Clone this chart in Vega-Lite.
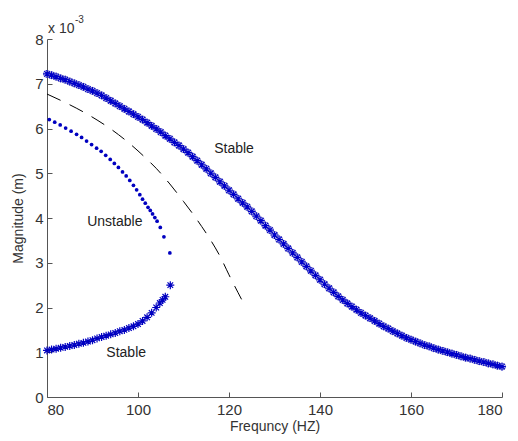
{
  "$schema": "https://vega.github.io/schema/vega-lite/v6.json",
  "autosize": "none",
  "width": 455,
  "height": 358,
  "padding": {"left": 47, "top": 39, "right": 16, "bottom": 44},
  "background": "white",
  "config": {
    "view": {"stroke": null},
    "font": "Liberation Sans",
    "axis": {
      "grid": false,
      "domainColor": "#555555",
      "tickColor": "#555555",
      "labelColor": "#333333",
      "titleColor": "#333333",
      "labelFont": "Liberation Sans",
      "titleFont": "Liberation Sans",
      "labelFontSize": 15,
      "titleFontSize": 14,
      "titleFontWeight": "normal",
      "tickSize": -5
    }
  },
  "datasets": {
    "upper": [
      {"f":80,"m":7.22},{"f":81,"m":7.19},{"f":82,"m":7.16},{"f":83,"m":7.12},{"f":84,"m":7.09},{"f":85,"m":7.05},{"f":86,"m":7.01},{"f":87,"m":6.97},{"f":88,"m":6.93},{"f":89,"m":6.88},
      {"f":90,"m":6.84},{"f":91,"m":6.79},{"f":92,"m":6.74},{"f":93,"m":6.68},{"f":94,"m":6.62},{"f":95,"m":6.56},{"f":96,"m":6.50},{"f":97,"m":6.44},{"f":98,"m":6.38},{"f":99,"m":6.32},
      {"f":100,"m":6.26},{"f":101,"m":6.20},{"f":102,"m":6.13},{"f":103,"m":6.06},{"f":104,"m":5.99},{"f":105,"m":5.92},{"f":106,"m":5.84},{"f":107,"m":5.77},{"f":108,"m":5.69},{"f":109,"m":5.62},
      {"f":110,"m":5.54},{"f":111,"m":5.46},{"f":112,"m":5.37},{"f":113,"m":5.28},{"f":114,"m":5.19},{"f":115,"m":5.10},{"f":116,"m":5.00},{"f":117,"m":4.91},{"f":118,"m":4.81},{"f":119,"m":4.72},
      {"f":120,"m":4.62},{"f":121,"m":4.53},{"f":122,"m":4.43},{"f":123,"m":4.34},{"f":124,"m":4.25},{"f":125,"m":4.15},{"f":126,"m":4.04},{"f":127,"m":3.94},{"f":128,"m":3.83},{"f":129,"m":3.73},
      {"f":130,"m":3.62},{"f":131,"m":3.52},{"f":132,"m":3.42},{"f":133,"m":3.32},{"f":134,"m":3.22},{"f":135,"m":3.12},{"f":136,"m":3.02},{"f":137,"m":2.92},{"f":138,"m":2.82},{"f":139,"m":2.72},
      {"f":140,"m":2.62},{"f":141,"m":2.52},{"f":142,"m":2.43},{"f":143,"m":2.34},{"f":144,"m":2.25},{"f":145,"m":2.17},{"f":146,"m":2.09},{"f":147,"m":2.02},{"f":148,"m":1.95},{"f":149,"m":1.88},
      {"f":150,"m":1.82},{"f":151,"m":1.76},{"f":152,"m":1.70},{"f":153,"m":1.64},{"f":154,"m":1.58},{"f":155,"m":1.53},{"f":156,"m":1.47},{"f":157,"m":1.42},{"f":158,"m":1.37},{"f":159,"m":1.32},
      {"f":160,"m":1.28},{"f":161,"m":1.24},{"f":162,"m":1.20},{"f":163,"m":1.16},{"f":164,"m":1.13},{"f":165,"m":1.09},{"f":166,"m":1.06},{"f":167,"m":1.03},{"f":168,"m":1.00},{"f":169,"m":0.97},
      {"f":170,"m":0.94},{"f":171,"m":0.91},{"f":172,"m":0.88},{"f":173,"m":0.86},{"f":174,"m":0.83},{"f":175,"m":0.80},{"f":176,"m":0.78},{"f":177,"m":0.75},{"f":178,"m":0.73},{"f":179,"m":0.70},
      {"f":180,"m":0.68}
    ],
    "lower": [
      {"f":80,"m":1.04},{"f":81,"m":1.06},{"f":82,"m":1.08},{"f":83,"m":1.10},{"f":84,"m":1.12},{"f":85,"m":1.14},{"f":86,"m":1.16},{"f":87,"m":1.19},{"f":88,"m":1.21},{"f":89,"m":1.24},
      {"f":90,"m":1.27},{"f":91,"m":1.31},{"f":92,"m":1.34},{"f":93,"m":1.37},{"f":94,"m":1.40},{"f":95,"m":1.43},{"f":96,"m":1.47},{"f":97,"m":1.50},{"f":98,"m":1.54},{"f":99,"m":1.58},
      {"f":100,"m":1.63},{"f":101,"m":1.70},{"f":102,"m":1.78},{"f":103,"m":1.88},{"f":104,"m":2.00},{"f":104.8,"m":2.10},{"f":105.4,"m":2.17},{"f":106,"m":2.24},{"f":107.1,"m":2.50}
    ],
    "unstable": [
      {"f":80.5,"m":6.20},{"f":81.7,"m":6.14},{"f":82.9,"m":6.08},{"f":84.1,"m":6.01},{"f":85.3,"m":5.94},{"f":86.5,"m":5.87},{"f":87.6,"m":5.80},{"f":88.7,"m":5.72},{"f":89.8,"m":5.64},{"f":90.9,"m":5.56},
      {"f":91.9,"m":5.49},{"f":92.9,"m":5.40},{"f":93.9,"m":5.31},{"f":94.8,"m":5.22},{"f":95.7,"m":5.13},{"f":96.6,"m":5.03},{"f":97.4,"m":4.94},{"f":98.2,"m":4.84},{"f":99.0,"m":4.73},{"f":99.7,"m":4.63},
      {"f":100.4,"m":4.52},{"f":101.0,"m":4.42},{"f":101.6,"m":4.33},{"f":102.2,"m":4.24},{"f":102.7,"m":4.17},{"f":103.2,"m":4.09},{"f":103.7,"m":4.01},{"f":104.2,"m":3.93},{"f":104.9,"m":3.79},{"f":105.7,"m":3.58},
      {"f":107.0,"m":3.22}
    ],
    "dashed": [
      {"f":80,"m":6.77},{"f":84,"m":6.58},{"f":88,"m":6.37},{"f":91,"m":6.19},{"f":94,"m":5.99},{"f":97,"m":5.76},{"f":100,"m":5.50},{"f":102,"m":5.31},{"f":104,"m":5.11},{"f":107,"m":4.76},
      {"f":110,"m":4.37},{"f":112,"m":4.10},{"f":114,"m":3.81},{"f":116,"m":3.50},{"f":118,"m":3.15},{"f":120,"m":2.73},{"f":122,"m":2.33},{"f":123.5,"m":2.04}
    ],
    "labels": [
      {"f":121.1,"m":5.55,"t":"Stable"},
      {"f":94.9,"m":3.91,"t":"Unstable"},
      {"f":97.4,"m":0.98,"t":"Stable"}
    ]
  },
  "encoding": {
    "x": {"field": "f", "type": "quantitative", "scale": {"domain": [80, 180], "nice": false}, "axis": {"values": [80,100,120,140,160,180], "title": "Frequncy (HZ)", "labelPadding": 10, "titlePadding": 2}},
    "y": {"field": "m", "type": "quantitative", "scale": {"domain": [0, 8], "nice": false}, "axis": {"values": [0,1,2,3,4,5,6,7,8], "title": "Magnitude (m)", "labelPadding": 9, "titlePadding": 9}}
  },
  "layer": [
    {
      "data": {"name": "dashed"},
      "mark": {"type": "line", "color": "black", "strokeWidth": 1, "strokeDash": [15, 10], "interpolate": "monotone"}
    },
    {
      "data": {"name": "upper"},
      "mark": {"type": "point", "shape": "circle", "size": 50, "filled": false, "stroke": "#6a6ac0", "strokeWidth": 1, "opacity": 0.85}
    },
    {
      "data": {"name": "upper"},
      "mark": {"type": "point", "shape": "M-1,0L1,0M0,-1L0,1M-0.7,-0.7L0.7,0.7M-0.7,0.7L0.7,-0.7", "size": 60, "filled": false, "stroke": "#0000c8", "strokeWidth": 1.2, "opacity": 1}
    },
    {
      "data": {"name": "lower"},
      "mark": {"type": "point", "shape": "M-1,0L1,0M0,-1L0,1M-0.7,-0.7L0.7,0.7M-0.7,0.7L0.7,-0.7", "size": 64, "filled": false, "stroke": "#0000c0", "strokeWidth": 1.2, "opacity": 1}
    },
    {
      "data": {"name": "unstable"},
      "mark": {"type": "point", "shape": "circle", "size": 14, "filled": true, "color": "#0000c0", "opacity": 1}
    },
    {
      "data": {"name": "labels"},
      "mark": {"type": "text", "font": "Liberation Sans", "fontSize": 14, "color": "#222222"},
      "encoding": {"text": {"field": "t"}}
    },
    {
      "data": {"values": [{"f": 80, "m": 8}]},
      "mark": {"type": "text", "text": "x 10", "font": "Liberation Sans", "fontSize": 14, "color": "#333333", "align": "left", "baseline": "alphabetic", "dx": 1, "dy": -6}
    },
    {
      "data": {"values": [{"f": 80, "m": 8}]},
      "mark": {"type": "text", "text": "-3", "font": "Liberation Sans", "fontSize": 10, "color": "#333333", "align": "left", "baseline": "alphabetic", "dx": 28, "dy": -16}
    }
  ]
}
